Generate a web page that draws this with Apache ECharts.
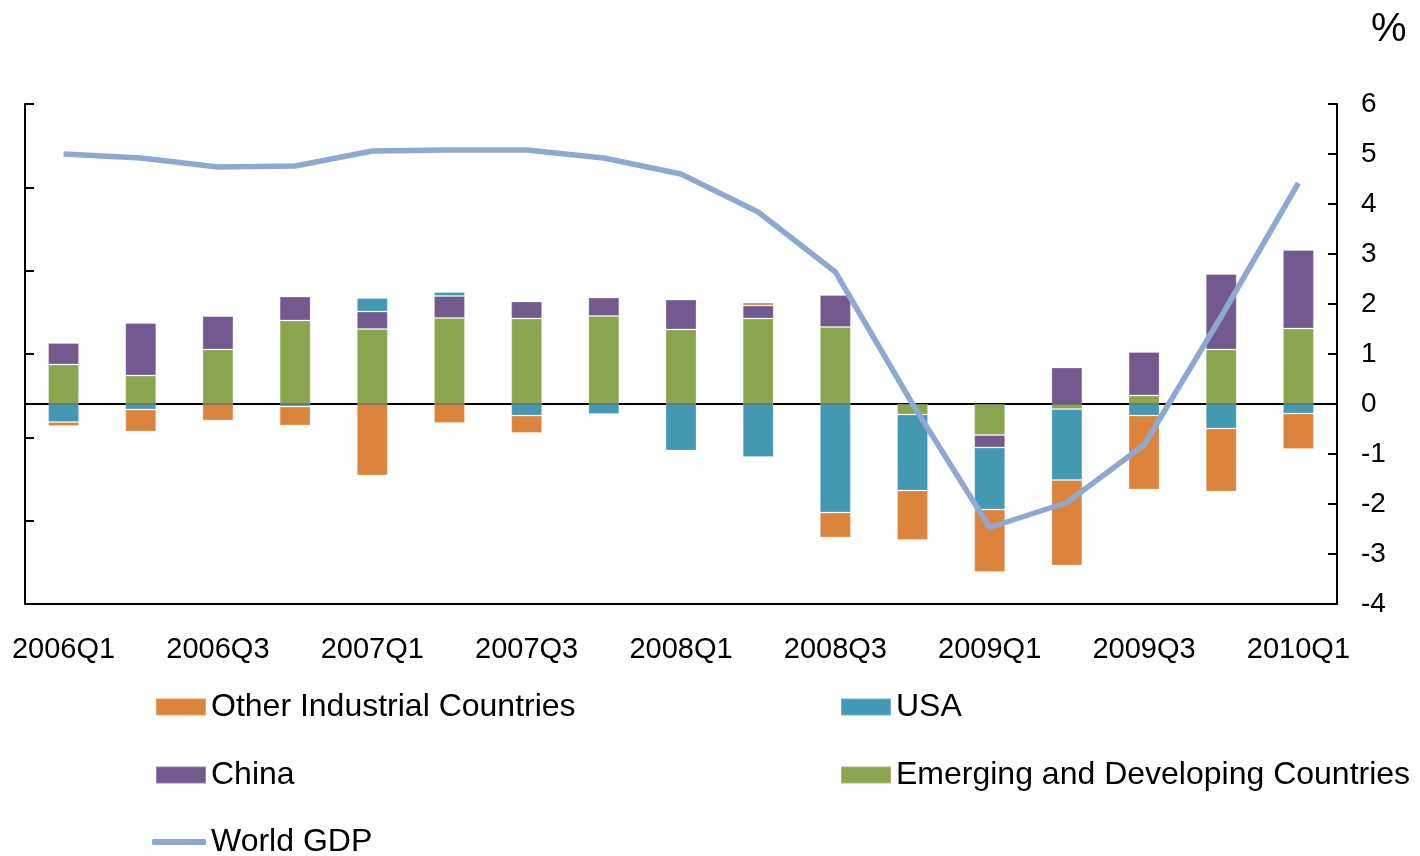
<!DOCTYPE html>
<html>
<head>
<meta charset="utf-8">
<script src="https://cdn.jsdelivr.net/npm/echarts@6/dist/echarts.min.js"></script>
<style>
  html, body { margin: 0; padding: 0; background: #fff; }
  #chart { width: 1420px; height: 856px; }
</style>
</head>
<body>
<div id="chart"></div>
<script>
var quarters = ['2006Q1', '2006Q2', '2006Q3', '2006Q4', '2007Q1', '2007Q2', '2007Q3', '2007Q4',
  '2008Q1', '2008Q2', '2008Q3', '2008Q4', '2009Q1', '2009Q2', '2009Q3', '2009Q4', '2010Q1'];
var emerging = [0.79, 0.57, 1.09, 1.67, 1.5, 1.72, 1.71, 1.76, 1.49, 1.71, 1.54, -0.21, -0.62, -0.1, 0.17, 1.09, 1.51];
var china = [0.43, 1.05, 0.67, 0.48, 0.35, 0.44, 0.34, 0.37, 0.6, 0.26, 0.64, 0, -0.25, 0.73, 0.87, 1.51, 1.57];
var usa = [-0.36, -0.11, 0, -0.05, 0.27, 0.08, -0.23, -0.2, -0.93, -1.06, -2.17, -1.52, -1.24, -1.42, -0.23, -0.49, -0.19];
var other = [-0.08, -0.44, -0.33, -0.38, -1.43, -0.38, -0.35, -0.02, -0.02, 0.06, -0.5, -0.99, -1.25, -1.71, -1.48, -1.26, -0.71];
var worldGdp = [5.0, 4.92, 4.74, 4.76, 5.06, 5.08, 5.08, 4.92, 4.6, 3.84, 2.64, 0.0, -2.47, -1.97, -0.82, 1.75, 4.42];
var rightTicks = { min: -4, max: 6, step: 1 };

var chartDom = document.getElementById('chart');
var myChart = echarts.init(chartDom);
var option;

var font = 'Liberation Sans, Arial, sans-serif';
var colors = {
  other: '#dd843c',
  usa: '#4399b1',
  china: '#735a8e',
  emerging: '#8ba54e',
  world: '#8ea9cf'
};

function legendItem(name, left, top, width, height, icon) {
  return {
    data: [{ name: name, icon: icon || 'rect' }],
    left: left,
    top: top,
    padding: 0,
    itemWidth: width || 50,
    itemHeight: height || 17,
    selectedMode: false,
    textStyle: { color: '#000', fontSize: 32, fontFamily: font }
  };
}

option = {
  animation: false,
  backgroundColor: '#fff',
  title: {
    text: '%', left: 1366, top: 5,
    textStyle: { color: '#000', fontSize: 40, fontWeight: 'normal', fontFamily: font }
  },
  legend: [
    legendItem('Other Industrial Countries', 155, 691),
    legendItem('USA', 840, 691),
    legendItem('China', 155, 759),
    legendItem('Emerging and Developing Countries', 840, 759),
    legendItem('World GDP', 152, 826, 54, 6, 'roundRect')
  ],
  grid: { left: 25, right: 83, top: 104, bottom: 252 },
  xAxis: [
    {
      type: 'category',
      position: 'bottom',
      data: quarters,
      axisLine: { onZero: false, lineStyle: { color: '#000', width: 2 } },
      axisTick: { show: false },
      axisLabel: { interval: 1, color: '#000', fontSize: 29, fontFamily: font, margin: 31 }
    },
    {
      type: 'category',
      position: 'bottom',
      data: quarters,
      axisLine: { onZero: true, onZeroAxisIndex: 0, lineStyle: { color: '#000', width: 2 } },
      axisTick: { inside: true, interval: 1, length: 8, lineStyle: { color: '#000', width: 2 } },
      axisLabel: { show: false }
    }
  ],
  yAxis: [
    {
      type: 'value',
      position: 'right',
      min: rightTicks.min,
      max: rightTicks.max,
      interval: rightTicks.step,
      splitLine: { show: false },
      axisLine: { show: true, lineStyle: { color: '#000', width: 2 } },
      axisTick: { show: true, inside: true, length: 9, lineStyle: { color: '#000', width: 2 } },
      axisLabel: { color: '#000', fontSize: 28, fontFamily: font, margin: 24 }
    },
    {
      type: 'value',
      position: 'left',
      min: 0,
      max: 6,
      interval: 1,
      splitLine: { show: false },
      axisLine: { show: true, lineStyle: { color: '#000', width: 2 } },
      axisTick: { show: true, inside: true, length: 9, lineStyle: { color: '#000', width: 2 } },
      axisLabel: { show: false }
    }
  ],
  series: [
    {
      name: 'Emerging and Developing Countries', type: 'bar', stack: 'g', barWidth: 31,
      xAxisIndex: 1, yAxisIndex: 0,
      itemStyle: { color: colors.emerging, borderColor: 'rgba(255,255,255,0.25)', borderWidth: 1 },
      data: emerging
    },
    {
      name: 'China', type: 'bar', stack: 'g', barWidth: 31,
      xAxisIndex: 1, yAxisIndex: 0,
      itemStyle: { color: colors.china, borderColor: 'rgba(255,255,255,0.25)', borderWidth: 1 },
      data: china
    },
    {
      name: 'USA', type: 'bar', stack: 'g', barWidth: 31,
      xAxisIndex: 1, yAxisIndex: 0,
      itemStyle: { color: colors.usa, borderColor: 'rgba(255,255,255,0.25)', borderWidth: 1 },
      data: usa
    },
    {
      name: 'Other Industrial Countries', type: 'bar', stack: 'g', barWidth: 31,
      xAxisIndex: 1, yAxisIndex: 0,
      itemStyle: { color: colors.other, borderColor: 'rgba(255,255,255,0.25)', borderWidth: 1 },
      data: other
    },
    {
      name: 'World GDP', type: 'line',
      xAxisIndex: 1, yAxisIndex: 0,
      symbol: 'none',
      z: 5,
      lineStyle: { color: colors.world, width: 5.5 },
      itemStyle: { color: colors.world },
      data: worldGdp
    }
  ]
};

option && myChart.setOption(option);
</script>
</body>
</html>
